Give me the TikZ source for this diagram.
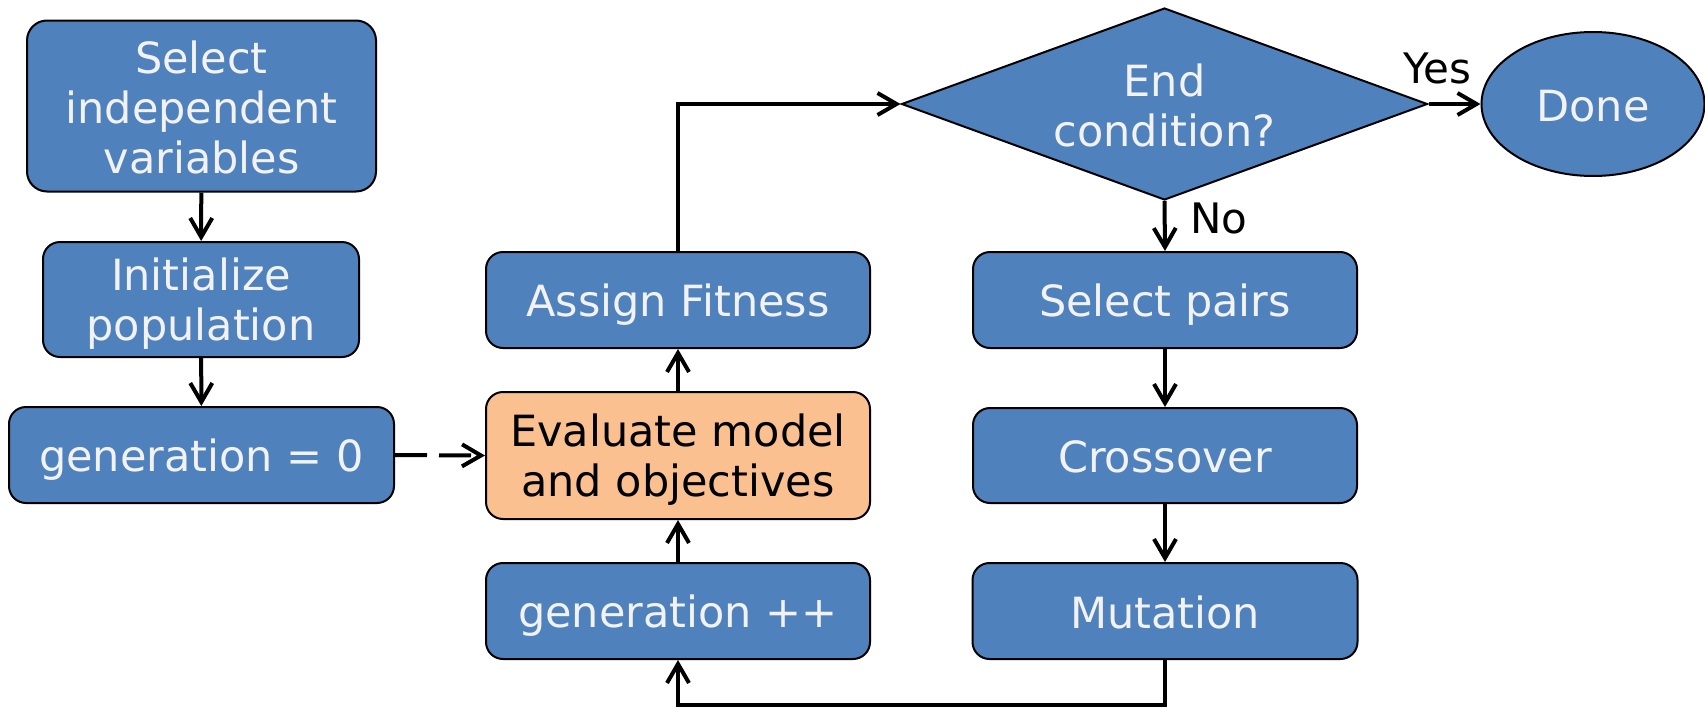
\documentclass[tikz,border=0pt]{standalone}
\usepackage{fontspec}
\setmainfont{DejaVu Sans}
\usetikzlibrary{arrows.meta,shapes.geometric,calc}
\definecolor{boxblue}{HTML}{4F81BD}
\definecolor{boxorange}{HTML}{FAC090}
\definecolor{lighttext}{HTML}{F2F2F2}
% fixed line strut (41pt above the baseline, 7pt below) so labels sit alike in their boxes
\newcommand{\ls}{\rule[-7pt]{0pt}{48pt}}
\tikzset{
  box/.style={draw=black, line width=2pt, fill=boxblue, rounded corners=17pt,
    text=lighttext, align=center, inner sep=0pt, font=\fontsize{43}{50}\selectfont},
  hotbox/.style={box, fill=boxorange, text=black},
  decision/.style={draw=black, line width=2pt, fill=boxblue, diamond, aspect=2.74,
    text=lighttext, align=center, inner sep=0pt, minimum width=526pt, minimum height=192pt,
    font=\fontsize{43}{50}\selectfont},
  terminal/.style={draw=black, line width=2pt, fill=boxblue, ellipse, inner sep=0pt,
    minimum width=223pt, minimum height=144pt, text=lighttext, font=\fontsize{43}{50}\selectfont},
  flow/.style={line width=4pt, -{Straight Barb[length=19pt,width=22pt,line width=4pt]}},
  branch/.style={font=\fontsize{42}{50}\selectfont, text=black, inner sep=0pt}
}
\begin{document}
\begin{tikzpicture}[x=1pt, y=-1pt]
  \useasboundingbox (0,0) rectangle (1705,707);

  % left column: setup steps
  \node[box, minimum width=349pt, minimum height=171pt, rounded corners=20pt] (sel) at (201.5,106)
    {\ls Select\\\ls independent\\\ls variables};
  \node[box, minimum width=316pt, minimum height=115pt] (init) at (201,299.5)
    {\ls Initialize\\\ls population};
  \node[box, minimum width=385pt, minimum height=96pt] (gen0) at (201.5,455)
    {\ls generation = 0};

  % middle column: evaluation loop
  \node[box, minimum width=384pt, minimum height=96pt] (fit) at (678,300) {\ls Assign Fitness};
  \node[hotbox, minimum width=384pt, minimum height=127pt] (eval) at (678,455.5)
    {\ls Evaluate model\\\ls and objectives};
  \node[box, minimum width=384pt, minimum height=96pt] (gpp) at (678,611) {\ls generation ++};

  % right column: decision and genetic operators
  \node[decision] (cond) at (1164.5,104) {\ls End\\\ls condition?};
  \node[terminal] (done) at (1593,104) {\ls Done};
  \node[box, minimum width=384pt, minimum height=96pt] (pairs) at (1165,300) {\ls Select pairs};
  \node[box, minimum width=384pt, minimum height=95pt] (cross) at (1165,455.5) {\ls Crossover};
  \node[box, minimum width=385pt, minimum height=96pt] (mut) at (1165,611) {\ls Mutation};

  % branch labels
  \node[branch, anchor=base] (yes) at (1437,83) {Yes};
  \node[branch, anchor=base] (no) at (1219,233) {No};

  % return path along the bottom
  \coordinate (floor) at (0,705);

  % connectors
  \draw[flow] (sel) -- (init);
  \draw[flow] (init) -- (gen0);
  \draw[flow, dash pattern=on 32pt off 12pt] (gen0.east) -- (eval.west);
  \draw[flow] (gpp) -- (eval);
  \draw[flow] (eval) -- (fit);
  \draw[flow] (fit.north) |- (cond.west);
  \draw[flow] (cond.east) -- (done.west);
  \draw[flow] (cond.south) -- (pairs.north);
  \draw[flow] (pairs) -- (cross);
  \draw[flow] (cross) -- (mut);
  \draw[flow] (mut.south) -- (mut.south |- floor) -| (gpp.south);
\end{tikzpicture}
\end{document}
